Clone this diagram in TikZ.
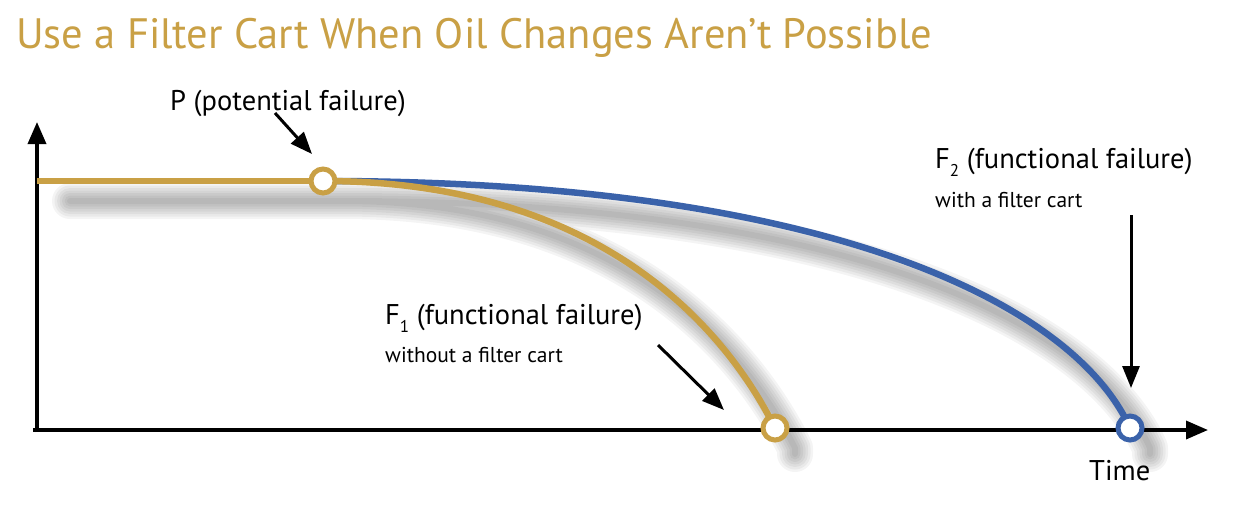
\documentclass[tikz,border=0pt]{standalone}
\usepackage{fontspec}
\setmainfont{PT Sans}
\usetikzlibrary{arrows.meta}
\definecolor{gold}{HTML}{C9A045}
\definecolor{fblue}{HTML}{3A62AA}
\tikzset{
  lbl/.style={font=\fontsize{28.5}{32}\selectfont, inner sep=0pt, anchor=base west},
  sublbl/.style={font=\fontsize{21.5}{25}\selectfont, inner sep=0pt, anchor=base west},
  ptr/.style={line width=3pt, -{Triangle[length=22pt,width=17pt]}},
  axis/.style={line width=3.5pt, -{Triangle[length=22pt,width=18pt]}},
  ring/.style={circle, line width=5pt, fill=white, minimum size=24pt, inner sep=0pt},
  curve/.style={line width=6.5pt},
}
\newcommand{\shadowpath}[1]{%
  \foreach \w in {6,11,16,21,26,31,36}{%
    \draw[black, opacity=0.045, line width=\w pt, line cap=round, line join=round] #1;}}
\begin{document}
\begin{tikzpicture}[x=1pt,y=-1pt]
\useasboundingbox (0,0) rectangle (1260,506);
\fill[white] (0,0) rectangle (1260,506);
% title
\node[font=\fontsize{42.5}{48}\selectfont, text=gold, inner sep=0pt, anchor=base west] (title) at (16,48) {Use a Filter Cart When Oil Changes Aren’t Possible};
% points
\coordinate (p) at (323,181);
\coordinate (f1) at (775,428);
\coordinate (f2) at (1130,428);
\coordinate (yb) at (37,432);
\coordinate (yt) at (37,122);
\coordinate (xl) at (33,430);
\coordinate (xr) at (1208,430);
% shadows (one path, so overlaps do not darken)
\begin{scope}[transform canvas={shift={(20pt,-20pt)}}]
\shadowpath{(50,181) -- (p) .. controls (600,181) and (725,328) .. (f1) -- ++(0,6)
  (p) .. controls (839,181) and (1076,308) .. (f2) -- ++(0,6)}
\end{scope}
% axes
\draw[axis] (yb) -- (yt);
\draw[axis] (xl) -- (xr);
% curves
\draw[gold, curve] (37,181) -- (p);
\draw[fblue, curve] (p) .. controls (839,181) and (1076,308) .. (f2);
\draw[gold, curve] (p) .. controls (600,181) and (725,328) .. (f1);
% rings
\node[ring, draw=gold] (P) at (p) {};
\node[ring, draw=gold] (F1) at (f1) {};
\node[ring, draw=fblue] (F2) at (f2) {};
% labels
\node[lbl] (Plbl) at (170,110) {P (potential failure)};
\node[lbl] (F1lbl) at (385,324) {F\raisebox{-0.3em}{\fontsize{17}{17}\selectfont 1} (functional failure)};
\node[sublbl] (F1sub) at (385,362) {without a filter cart};
\node[lbl] (F2lbl) at (935,168) {F\raisebox{-0.3em}{\fontsize{17}{17}\selectfont 2} (functional failure)};
\node[sublbl] (F2sub) at (935,207) {with a filter cart};
\node[lbl] (time) at (1089,480) {Time};
% pointers
\coordinate (pa) at (275,113);
\coordinate (f1a) at (658,345);
\coordinate (f2a) at (1131,215);
\draw[ptr] (pa) -- (312,154);
\draw[ptr] (f1a) -- (724,410);
\draw[ptr] (f2a) -- (1131,388);
\end{tikzpicture}
\end{document}
